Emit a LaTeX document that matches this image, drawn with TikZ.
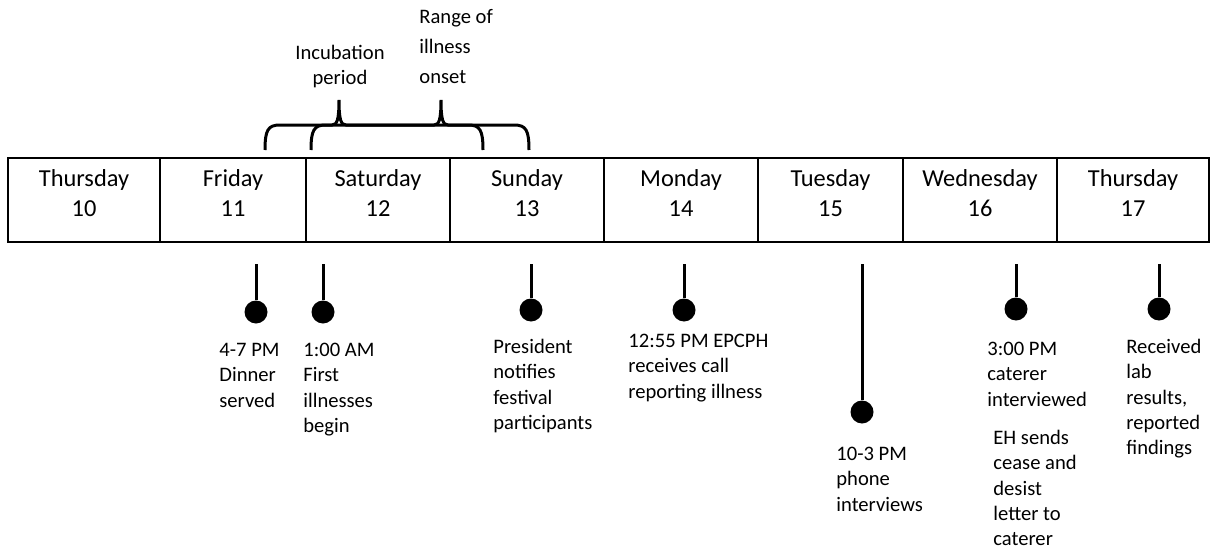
\documentclass[tikz,border=0pt]{standalone}
\usepackage{fontspec}
\setmainfont{Carlito}
\usetikzlibrary{positioning}
\tikzset {
    day cell/.style = {draw, line width = 1pt},
    day label/.style = {align = center, inner sep = 0pt, font = \fontsize{12.2}{15}\selectfont},
    stem/.style = {line width = 1.5pt},
    dot/.style = {circle, fill, inner sep = 0pt, minimum size = 11.5pt},
    event/.style = {align = left, anchor = north west, inner sep = 0pt, font = \fontsize{10.3}{12.6}\selectfont},
    brace line/.style = {line width = 1.5pt},
    brace label/.style = {inner sep = 0pt, font = \fontsize{10.3}{12.5}\selectfont},
}
% left end, tip, right end
\newcommand{\timebrace}[3]{
    \draw [brace line] (#1, 150)
        .. controls +(0, -20) and +(-12, 0) .. (#1 + 15, 125)
        -- (#2 - 7, 125)
        .. controls +(5, 0) and +(0, 20) .. (#2, 100)
        .. controls +(0, 20) and +(-5, 0) .. (#2 + 7, 125)
        -- (#3 - 15, 125)
        .. controls +(12, 0) and +(0, -20) .. (#3, 150);
}

\begin{document}
\begin{tikzpicture}[x = 0.5pt, y = -0.5pt]
    \useasboundingbox (0, 0) rectangle (1211, 546);
    % days
    \foreach \l/\r/\day/\num in {8/160/Thursday/10, 160/306/Friday/11,
        306/450/Saturday/12, 450/604/Sunday/13, 604/758/Monday/14,
        758/903/Tuesday/15, 903/1057/Wednesday/16, 1057/1209/Thursday/17} {
        \draw [day cell] (\l, 158) rectangle (\r, 242);
        \node (day\num) [day label] at ({(\l + \r) / 2}, 193) {\day\\\num};
    }
    % braces
    \timebrace{265}{339}{483}
    \timebrace{311}{441}{529}
    \node (incub) [brace label, align = center] at (340, 67) {Incubation\\period};
    \node (onset) [brace label, align = left, anchor = west,
        font = \fontsize{10.3}{15}\selectfont] at (419, 47) {Range of\\illness\\onset};
    % events
    \foreach \i/\x/\y in {1/256/312, 2/323/312, 3/531/310, 4/684/310,
        5/862/412, 6/1016/309, 7/1159/309} {
        \coordinate (s\i) at (\x, 264);
        \node (d\i) [dot] at (\x, \y) {};
        \draw [stem] (s\i) -- (d\i);
    }
    \node (t1) [event] at (219, 343) {4-7 PM\\Dinner\\served};
    \node (t2) [event] at (303, 343) {1:00 AM\\First\\illnesses\\begin};
    \node (t3) [event] at (493, 339) {President\\notifies\\festival\\participants};
    \node (t4) [event] at (628, 334) {12:55 PM EPCPH\\receives call\\reporting illness};
    \node (t5) [event] at (836, 447) {10-3 PM\\phone\\interviews};
    \node (t6) [event] at (987, 342) {3:00 PM\\caterer\\interviewed};
    \node (t6b) [event] at (993, 430) {EH sends\\cease and\\desist\\letter to\\caterer};
    \node (t7) [event] at (1126, 339) {Received\\lab\\results,\\reported\\findings};
\end{tikzpicture}
\end{document}
